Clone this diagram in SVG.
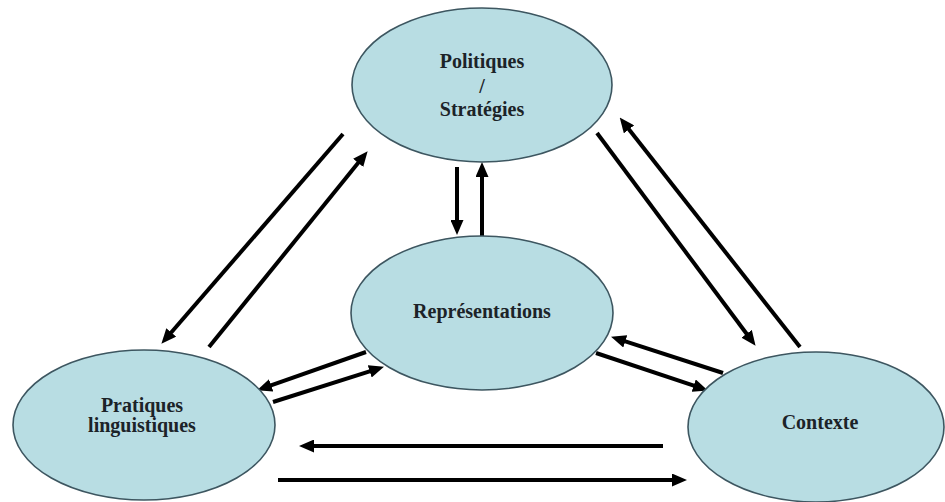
<svg xmlns="http://www.w3.org/2000/svg" width="945" height="502" viewBox="0 0 945 502">
<defs>
<style>
.node ellipse{fill:#b8dde3;stroke:#3d5660;stroke-width:1.6}
.node text{font-family:"Liberation Serif","Times New Roman",serif;font-weight:bold;font-size:20px;fill:#1c2328;text-anchor:middle}
.conn line{stroke:#000;stroke-width:4;marker-end:url(#ah)}
</style>
<marker id="ah" markerUnits="userSpaceOnUse" markerWidth="15" markerHeight="13" refX="4" refY="6.5" orient="auto">
<path d="M0,0 L15,6.5 L0,13 z" fill="#000"/>
</marker>
</defs>
<rect width="945" height="502" fill="#fff"/>
<g id="connectors" class="conn">
<line x1="343" y1="134" x2="168.6" y2="335.5"/>
<line x1="209" y1="347" x2="360.7" y2="159.8"/>
<line x1="597" y1="133" x2="749" y2="337"/>
<line x1="800" y1="347" x2="626.5" y2="126.2"/>
<line x1="457" y1="167" x2="457" y2="224"/>
<line x1="482" y1="237" x2="482" y2="173"/>
<line x1="366" y1="352" x2="267.4" y2="386.6"/>
<line x1="273" y1="402" x2="373.5" y2="370.1"/>
<line x1="723" y1="373" x2="621.5" y2="340.1"/>
<line x1="596" y1="353" x2="697.5" y2="386.9"/>
<line x1="663" y1="446" x2="310" y2="446"/>
<line x1="278" y1="480" x2="676" y2="480"/>
</g>
<g id="politiques" class="node">
<ellipse cx="482" cy="85" rx="130" ry="77"/>
<text x="482" y="68">Politiques</text>
<text x="482" y="93">/</text>
<text x="482" y="116">Stratégies</text>
</g>
<g id="representations" class="node">
<ellipse cx="482" cy="313" rx="131" ry="77"/>
<text x="482" y="318">Représentations</text>
</g>
<g id="pratiques" class="node">
<ellipse cx="144" cy="425" rx="131" ry="75"/>
<text x="142" y="412">Pratiques</text>
<text x="142" y="432">linguistiques</text>
</g>
<g id="contexte" class="node">
<ellipse cx="816" cy="427" rx="128" ry="75"/>
<text x="820" y="429">Contexte</text>
</g>
</svg>
